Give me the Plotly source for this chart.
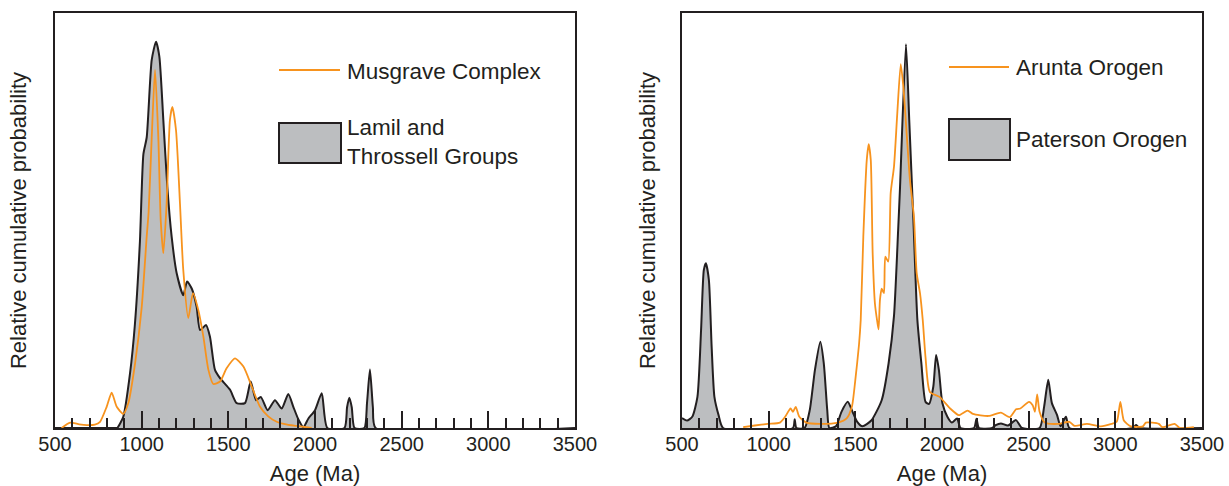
import plotly.graph_objects as go

# ---------------- Data ----------------
# Left panel: Lamil and Throssell Groups (grey filled curve)
lamil_age = [500, 850, 859, 894, 933, 961, 990, 1010, 1029, 1058, 1083, 1102, 1125, 1148,
             1173, 1202, 1240, 1262, 1290, 1317, 1337, 1371, 1394, 1423, 1452, 1510, 1548,
             1596, 1629, 1660, 1687, 1727, 1769, 1808, 1846, 1875, 1905, 1933, 1962, 2000,
             2039, 2071, 2170, 2185, 2198, 2212, 2228, 2285, 2300, 2317, 2334, 2350, 3500]
lamil_prob = [0, 0, 0, 0.027, 0.132, 0.25, 0.45, 0.66, 0.70, 0.887, 0.931, 0.895, 0.742, 0.581,
              0.461, 0.373, 0.32, 0.353, 0.335, 0.292, 0.236, 0.248, 0.22, 0.14, 0.12, 0.092, 0.06,
              0.06, 0.112, 0.067, 0.075, 0.043, 0.067, 0.047, 0.082, 0.051, 0.02, 0.002, 0.023, 0.043,
              0.084, 0, 0, 0.05, 0.073, 0.05, 0, 0, 0.06, 0.141, 0.05, 0, 0]

# Left panel: Musgrave Complex (orange line)
musgrave_age = [538, 587, 640, 683, 730, 760, 798, 827, 856, 894, 923, 962, 1000, 1029, 1040,
                1058, 1077, 1096, 1110, 1125, 1144, 1163, 1177, 1198, 1221, 1240, 1269, 1296,
                1327, 1356, 1385, 1413, 1452, 1490, 1538, 1587, 1635, 1683, 1730, 1779, 1840,
                1894, 1981]
musgrave_prob = [0, 0.013, 0.009, 0.007, 0.008, 0.015, 0.051, 0.085, 0.051, 0.034, 0.06, 0.156,
                 0.29, 0.461, 0.52, 0.70, 0.863, 0.70, 0.50, 0.421, 0.541, 0.742, 0.774, 0.718,
                 0.541, 0.381, 0.265, 0.325, 0.284, 0.22, 0.14, 0.106, 0.112, 0.144, 0.168, 0.148,
                 0.1, 0.051, 0.028, 0.015, 0.008, 0.005, 0]

# Right panel: Paterson Orogen (grey filled curve)
paterson_age = [500, 529, 559, 589, 610, 626, 638, 655, 671, 687, 711, 737, 1140, 1150, 1160,
                1207, 1237, 1267, 1298, 1318, 1338, 1350, 1388, 1420, 1456, 1484, 1511, 1541,
                1592, 1652, 1692, 1723, 1747, 1758, 1792, 1811, 1835, 1858, 1881, 1905, 1925,
                1950, 1966, 1982, 2002, 2031, 2057, 2087, 2107, 2185, 2199, 2213, 2290, 2310,
                2340, 2381, 2427, 2461, 2563, 2589, 2613, 2634, 2664, 2684, 2715, 2735, 3100,
                3119, 3140, 3500]
paterson_prob = [0.024, 0.018, 0.027, 0.075, 0.236, 0.381, 0.397, 0.357, 0.196, 0.075, 0.031, 0,
                 0, 0.021, 0, 0, 0.043, 0.14, 0.208, 0.156, 0.043, 0, 0.004, 0.039, 0.063, 0.039,
                 0.015, 0.004, 0.018, 0.067, 0.156, 0.27, 0.477, 0.581, 0.925, 0.742, 0.50, 0.26,
                 0.156, 0.063, 0.058, 0.1, 0.176, 0.14, 0.06, 0.027, 0.013, 0.023, 0, 0, 0.022, 0,
                 0, 0.007, 0.011, 0.006, 0.019, 0, 0, 0.051, 0.116, 0.06, 0.031, 0.004, 0.027, 0,
                 0, 0.007, 0, 0]

# Right panel: Arunta Orogen (orange line)
arunta_age = [853, 920, 994, 1065, 1095, 1126, 1140, 1156, 1177, 1217, 1298, 1399, 1450, 1480,
              1500, 1521, 1531, 1546, 1566, 1577, 1589, 1600, 1613, 1627, 1634, 1642, 1652, 1665,
              1673, 1690, 1704, 1723, 1742, 1762, 1777, 1796, 1815, 1838, 1854, 1873, 1889, 1905,
              1930, 1986, 2047, 2097, 2148, 2178, 2269, 2340, 2391, 2427, 2452, 2502, 2523, 2536,
              2549, 2563, 2593, 2674, 2735, 2765, 2836, 2917, 2978, 3008, 3029, 3049, 3089, 3159,
              3176, 3251, 3271, 3342, 3372, 3453]
arunta_prob = [0.002, 0.006, 0.01, 0.013, 0.027, 0.047, 0.039, 0.051, 0.027, 0.013, 0.01, 0.013,
               0.023, 0.051, 0.116, 0.2, 0.26, 0.461, 0.646, 0.684, 0.646, 0.421, 0.30, 0.255,
               0.238, 0.308, 0.336, 0.325, 0.413, 0.401, 0.566, 0.63, 0.758, 0.877, 0.822, 0.71,
               0.598, 0.509, 0.373, 0.325, 0.26, 0.17, 0.087, 0.075, 0.047, 0.031, 0.042, 0.034,
               0.029, 0.037, 0.026, 0.045, 0.047, 0.063, 0.055, 0.039, 0.081, 0.039, 0.013, 0.01,
               0.015, 0.005, 0.01, 0.004, 0.01, 0.015, 0.063, 0.018, 0.004, 0.004, 0.013, 0.01,
               0.002, 0.01, 0, 0.002]

x_major_ticks = [500, 1000, 1500, 2000, 2500, 3000, 3500]
x_title = "Age (Ma)"
y_title = "Relative cumulative probability"
legend_left = ["Musgrave Complex", "Lamil and<br>Throssell Groups"]
legend_right = ["Arunta Orogen", "Paterson Orogen"]

# ---------------- Styling ----------------
DARK = "#231F20"
ORANGE = "#F7931E"
GREY = "#BCBEC0"
FONT = "Liberation Sans, Arial, Helvetica, sans-serif"

W, H = 1229, 486
ML, MR, MT, MB = 55, 27, 13, 58
PW = W - ML - MR  # plot area width

fig = go.Figure()

def grey_trace(x, y, xa, ya):
    return go.Scatter(x=x, y=y, mode="lines", xaxis=xa, yaxis=ya, fill="tozeroy",
                      fillcolor=GREY, line=dict(color=DARK, width=2, shape="spline", smoothing=0.6),
                      hoverinfo="skip", showlegend=False)

def orange_trace(x, y, xa, ya):
    return go.Scatter(x=x, y=y, mode="lines", xaxis=xa, yaxis=ya,
                      line=dict(color=ORANGE, width=1.8, shape="spline", smoothing=0.6),
                      hoverinfo="skip", showlegend=False)

fig.add_trace(grey_trace(lamil_age, lamil_prob, "x", "y"))
fig.add_trace(orange_trace(musgrave_age, musgrave_prob, "x", "y"))
fig.add_trace(grey_trace(paterson_age, paterson_prob, "x2", "y2"))
fig.add_trace(orange_trace(arunta_age, arunta_prob, "x2", "y2"))

def xaxis_cfg(domain, anchor):
    return dict(domain=domain, anchor=anchor, range=[500, 3500], tickvals=x_major_ticks,
                ticks="inside", ticklen=17, tickwidth=1.5, tickcolor=DARK,
                minor=dict(dtick=100, tick0=500, ticks="inside", ticklen=10, tickwidth=1.5,
                           tickcolor=DARK, showgrid=False),
                showline=True, linecolor=DARK, linewidth=2, mirror=True,
                showgrid=False, zeroline=False,
                tickfont=dict(family=FONT, size=20, color=DARK), ticklabelstandoff=-3,
                title=dict(text=x_title, font=dict(family=FONT, size=22, color=DARK), standoff=13),
                automargin=False, fixedrange=True)

def yaxis_cfg(anchor, standoff):
    return dict(domain=[0, 1], anchor=anchor, range=[0, 1], showticklabels=False, ticks="",
                showline=True, linecolor=DARK, linewidth=2, mirror=True,
                showgrid=False, zeroline=False,
                title=dict(text=y_title, font=dict(family=FONT, size=22, color=DARK), standoff=standoff),
                automargin=False, fixedrange=True)

left_dom = [0, 520 / PW]
right_dom = [(682 - ML) / PW, 1]

fig.update_layout(
    width=W, height=H,
    margin=dict(l=ML, r=MR, t=MT, b=MB, pad=0),
    paper_bgcolor="white", plot_bgcolor="white",
    showlegend=False,
    font=dict(family=FONT, color=DARK),
    xaxis=xaxis_cfg(left_dom, "y"),
    yaxis=yaxis_cfg("x", 20),
    xaxis2=xaxis_cfg(right_dom, "y2"),
    yaxis2=yaxis_cfg("x2", 18),
)

# ---------------- Custom legends ----------------
def px2paper_x(px):
    return (px - ML) / PW

def px2paper_y(py):
    return (H - MB - py) / (H - MT - MB)

shapes = []
annotations = []

def add_legend(line_x0, line_x1, line_y, box_y0, box_y1, text_x, texts, text_ys):
    shapes.append(dict(type="line", xref="paper", yref="paper",
                       x0=px2paper_x(line_x0), x1=px2paper_x(line_x1),
                       y0=px2paper_y(line_y), y1=px2paper_y(line_y),
                       line=dict(color=ORANGE, width=1.8)))
    shapes.append(dict(type="rect", xref="paper", yref="paper",
                       x0=px2paper_x(line_x0), x1=px2paper_x(line_x1 + 1),
                       y0=px2paper_y(box_y1), y1=px2paper_y(box_y0),
                       fillcolor=GREY, line=dict(color=DARK, width=2)))
    for t, ty in zip(texts, text_ys):
        annotations.append(dict(text=t, xref="paper", yref="paper",
                                x=px2paper_x(text_x), y=px2paper_y(ty),
                                xanchor="left", yanchor="middle", showarrow=False, align="left",
                                font=dict(family=FONT, size=22.5, color=DARK)))

add_legend(279, 340, 70, 123, 163, 345, legend_left, [71, 142])
add_legend(949, 1009, 67, 119, 160, 1014, legend_right, [67, 139])

fig.update_layout(shapes=shapes, annotations=annotations)

# remove the default page margin so the 1229x486 figure fills the window exactly
fig.write_html("out.html", config={"displayModeBar": False},
               post_script="document.body.style.margin='0';")
